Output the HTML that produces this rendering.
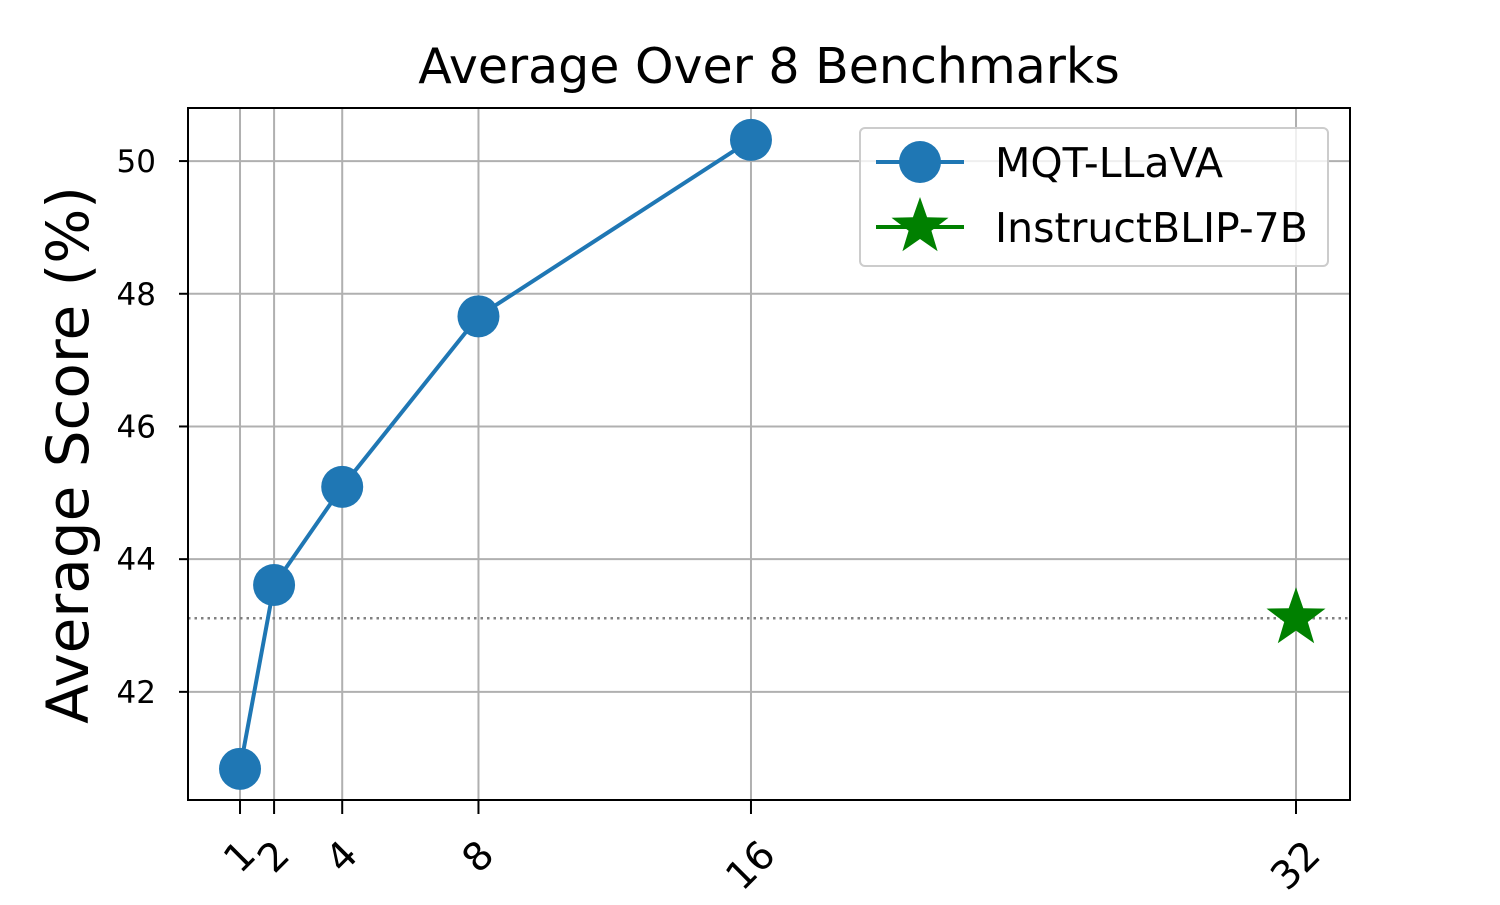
<!DOCTYPE html>
<html><head><meta charset="utf-8"><style>
body{margin:0;background:#fff;}
svg text{font-family:"DejaVu Sans","Liberation Sans",sans-serif;}
</style></head><body>
<svg id="chart" width="1500" height="900" xmlns="http://www.w3.org/2000/svg">
<rect width="1500" height="900" fill="#fff"/>
<text x="769" y="83" font-size="49" text-anchor="middle">Average Over 8 Benchmarks</text>
<text transform="translate(88,455) rotate(-90)" font-size="58" text-anchor="middle">Average Score (%)</text>
<g id="grid"></g><g id="marks"></g><g id="axes"></g>
<g>
<rect x="860" y="128" width="468" height="138" rx="5" fill="#fff" fill-opacity="0.8" stroke="#ccc" stroke-width="2"/>
<line x1="876" y1="162" x2="964" y2="162" stroke="#1f77b4" stroke-width="4"/>
<circle cx="920" cy="162" r="21" fill="#1f77b4"/>
<text x="995" y="177" font-size="41">MQT-LLaVA</text>
<line x1="876" y1="227" x2="964" y2="227" stroke="green" stroke-width="4"/>
<path id="legstar" fill="green"/>
<text x="995" y="242" font-size="41">InstructBLIP-7B</text>
</g>
</svg>
<script>
const xTicks=[1,2,4,8,16,32];
const yTicks=[42,44,46,48,50];
const mqtX=[1,2,4,8,16];
const mqtY=[40.84,43.61,45.09,47.66,50.32];
const blipX=[32];
const blipY=[43.11];
const L=188,R=1350,T=108,B=800,xmin=-0.527,xmax=33.585,ymin=40.37,ymax=50.80;
const sx=v=>L+(v-xmin)/(xmax-xmin)*(R-L);
const sy=v=>B-(v-ymin)/(ymax-ymin)*(B-T);
const NS="http://www.w3.org/2000/svg";
function mk(tag,attrs,parent){const e=document.createElementNS(NS,tag);for(const k in attrs)e.setAttribute(k,attrs[k]);document.getElementById(parent).appendChild(e);return e;}
function star(cx,cy,r){let p=[];for(let i=0;i<10;i++){const a=-Math.PI/2+i*Math.PI/5;const rr=i%2?r*0.4:r;p.push((cx+rr*Math.cos(a)).toFixed(1)+","+(cy+rr*Math.sin(a)).toFixed(1));}return "M"+p.join("L")+"Z";}
document.getElementById('legstar').setAttribute('d',star(920,227,30));
xTicks.forEach(t=>{const x=sx(t);
 let g=mk('line',{x1:x,x2:x,y1:T,y2:B,stroke:'#b0b0b0','stroke-width':2},'grid');
 
 
 mk('line',{x1:x,x2:x,y1:B,y2:B+14,stroke:'#000','stroke-width':2},'axes');
 const w=25*String(t).length;
 const cy=838+(w+29)/2.83;
 let tx=mk('text',{transform:`translate(${x},${cy}) rotate(-45)`,'font-size':39,'text-anchor':'middle','dominant-baseline':'central'},'axes');
 tx.textContent=t;
 
 
});
yTicks.forEach(t=>{const y=sy(t);
 let g=mk('line',{x1:L,x2:R,y1:y,y2:y,stroke:'#b0b0b0','stroke-width':2},'grid');
 
 
 mk('line',{x1:L-9,x2:L,y1:y,y2:y,stroke:'#000','stroke-width':2},'axes');
 let tx=mk('text',{x:L-32,y:y+11,'font-size':31,'text-anchor':'end'},'axes');
 tx.textContent=t;
 
 
});
let fr=mk('rect',{x:L,y:T,width:R-L,height:B-T,fill:'none',stroke:'#000','stroke-width':2},'axes');


let ref=mk('line',{x1:L,x2:R,y1:sy(blipY[0]),y2:sy(blipY[0]),stroke:'#808080','stroke-width':2.5,'stroke-dasharray':'2.5,4'},'marks');


let pl=mk('polyline',{points:mqtX.map((v,i)=>sx(v)+','+sy(mqtY[i])).join(' '),fill:'none',stroke:'#1f77b4','stroke-width':4},'marks');


mqtX.forEach((v,i)=>{let c=mk('circle',{cx:sx(v),cy:sy(mqtY[i]),r:21,fill:'#1f77b4'},'marks');
 
 });
blipX.forEach((v,i)=>{let s=mk('path',{d:star(sx(v),sy(blipY[i]),31),fill:'green'},'marks');
 
 });
</script>
</body></html>
